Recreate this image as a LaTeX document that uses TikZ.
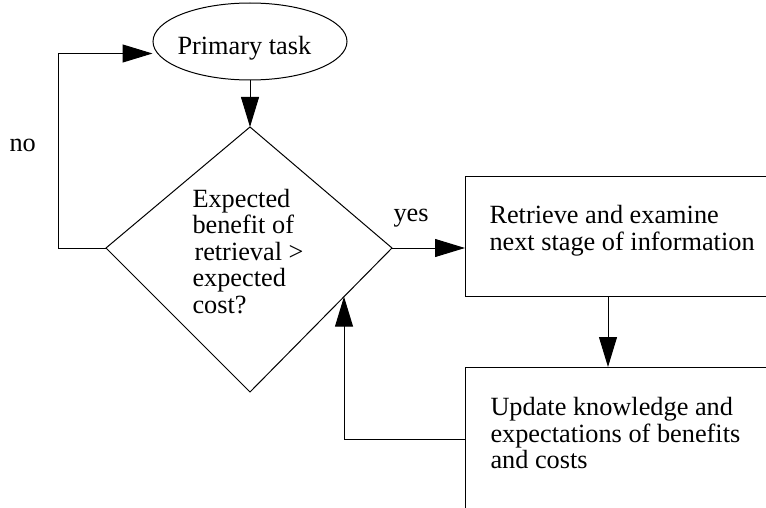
\documentclass[tikz,border=0pt]{standalone}
\usepackage{fontspec}
\setmainfont{Liberation Serif}
\usetikzlibrary{arrows.meta,shapes.geometric,calc}

\begin{document}
\begin{tikzpicture}[x=1pt,y=-1pt,
  line width=1pt,
  arr/.style={-{Triangle[length=30pt,width=18pt]}},
  txt/.style={font=\fontsize{26.3}{26.5}\selectfont, inner sep=0pt, align=left},
  boxshape/.style={draw, rectangle, inner sep=0pt}]

  \useasboundingbox (0,0) rectangle (766,508);

  % start node
  \node[draw, ellipse, minimum width=194pt, minimum height=77pt, inner sep=0pt] (pt) at (250,41.5) {};
  \node[txt, anchor=base west] (ptlbl) at (177,55) {Primary task};

  % decision diamond
  \coordinate (dtop)   at (250,127);
  \coordinate (dright) at (392,248);
  \coordinate (dbot)   at (250,392);
  \coordinate (dleft)  at (106,248);
  \draw (dtop) -- (dright) -- (dbot) -- (dleft) -- cycle;
  \node[txt, anchor=north west] (dlbl) at (192,188.7)
    {Expected\\benefit of\\\hspace*{2pt}retrieval >\\expected\\cost?};

  % action boxes (open towards the page edge)
  \node[boxshape, minimum width=335pt, minimum height=120pt, anchor=north west] (rbox) at (465,176) {};
  \node[txt, anchor=north west] (rlbl) at ([shift={(24,29)}]rbox.north west)
    {Retrieve and examine\\next stage of information};

  \node[boxshape, minimum width=335pt, minimum height=200pt, anchor=north west] (bbox) at (465,367) {};
  \node[txt, anchor=north west] (blbl) at ([shift={(25,30)}]bbox.north west)
    {Update knowledge and\\expectations of benefits\\and costs};

  % connectors
  \draw[arr] (pt.south) -- (dtop);
  \draw[arr] (dleft) -- ++(-48,0) |- ([yshift=-12pt]pt.west);
  \node[txt, anchor=base west] (nolbl) at (9,152) {no};

  \draw[arr] (dright) -- (rbox.west |- dright);
  \node[txt, anchor=base west] (yeslbl) at (393,222) {yes};

  \coordinate (mid) at (608,0);
  \draw[arr] (rbox.south -| mid) -- (bbox.north -| mid);

  \coordinate (ret) at (344,439);
  \draw[arr] (bbox.west |- ret) -| ($(dright)!0.338!(dbot)$);
\end{tikzpicture}
\end{document}
